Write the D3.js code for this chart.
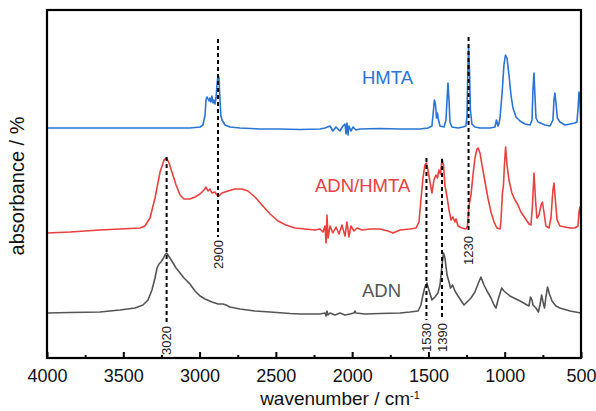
<!DOCTYPE html>
<html><head><meta charset="utf-8">
<script src="https://cdn.jsdelivr.net/npm/d3@7"></script>
<style>
html,body{margin:0;padding:0;background:#fff;}
svg text{font-family:"Liberation Sans",Arial,sans-serif;}
</style></head>
<body><svg id="c" width="596" height="411"></svg>
<script>
// ---- data (wavenumber cm^-1, absorbance a.u.) ----
const hmtaWn = [4000,3784,3522,3259,3063,2997,2978,2964,2958,2951,2938,2932,2925,2919,2912,2906,2899,2892,2886,2879,2873,2866,2860,2853,2833,2801,2735,2604,2473,2342,2211,2178,2145,2126,2106,2080,2060,2047,2040,2034,2027,2021,2008,1994,1975,1949,1818,1686,1555,1503,1477,1470,1461,1454,1447,1441,1434,1424,1398,1385,1378,1372,1365,1359,1346,1306,1274,1254,1247,1241,1237,1231,1225,1215,1195,1162,1097,1064,1054,1044,1038,1031,1018,1005,995,985,972,959,946,926,900,867,834,821,815,808,802,795,782,736,703,684,677,671,664,655,638,605,572,540,527,520,513,507,500];
const hmtaAbs = [2.30,2.30,2.30,2.30,2.30,2.31,2.33,2.43,2.58,2.61,2.57,2.60,2.56,2.62,2.55,2.58,2.54,2.60,2.73,2.83,2.80,2.58,2.42,2.38,2.33,2.31,2.30,2.29,2.29,2.285,2.29,2.30,2.32,2.27,2.31,2.27,2.32,2.34,2.24,2.35,2.23,2.32,2.27,2.31,2.28,2.29,2.295,2.29,2.29,2.30,2.32,2.43,2.58,2.54,2.40,2.45,2.38,2.32,2.31,2.38,2.58,2.75,2.58,2.36,2.31,2.30,2.31,2.32,2.43,2.93,3.11,2.88,2.48,2.34,2.31,2.30,2.30,2.31,2.38,2.32,2.34,2.40,2.63,2.93,3.03,3.00,2.83,2.63,2.50,2.41,2.37,2.34,2.33,2.38,2.68,2.85,2.63,2.40,2.36,2.33,2.32,2.38,2.58,2.65,2.55,2.40,2.36,2.33,2.34,2.35,2.36,2.48,2.66,2.58,2.33];

const mixWn = [4000,3849,3653,3522,3390,3358,3325,3292,3259,3233,3216,3200,3181,3154,3128,3102,3063,3030,2997,2971,2958,2945,2932,2919,2899,2886,2873,2853,2814,2768,2722,2683,2637,2591,2538,2486,2434,2375,2309,2244,2211,2191,2178,2171,2165,2158,2145,2126,2106,2086,2067,2047,2034,2021,2008,1988,1968,1935,1883,1818,1765,1732,1686,1621,1581,1562,1549,1536,1523,1513,1503,1490,1477,1464,1451,1441,1431,1421,1411,1401,1392,1378,1365,1352,1339,1326,1319,1306,1280,1254,1244,1234,1221,1208,1195,1182,1175,1162,1149,1129,1110,1090,1070,1051,1031,1025,1015,1008,1002,994,985,972,953,933,913,894,867,841,828,818,808,798,789,775,762,753,743,730,710,697,684,677,668,657,638,605,572,540,520,513,507,500];
const mixAbs = [1.25,1.26,1.28,1.29,1.30,1.32,1.40,1.60,1.86,1.98,2.00,1.95,1.86,1.73,1.63,1.59,1.59,1.61,1.64,1.68,1.71,1.67,1.69,1.65,1.66,1.63,1.62,1.65,1.67,1.69,1.69,1.67,1.61,1.53,1.44,1.37,1.33,1.30,1.29,1.28,1.29,1.26,1.32,1.15,1.43,1.20,1.32,1.25,1.31,1.24,1.33,1.22,1.36,1.21,1.32,1.27,1.30,1.28,1.29,1.29,1.27,1.25,1.28,1.29,1.30,1.36,1.58,1.80,1.93,1.95,1.88,1.76,1.65,1.78,1.83,1.80,1.88,1.84,1.99,1.93,1.73,1.61,1.48,1.38,1.41,1.36,1.39,1.32,1.30,1.29,1.32,1.53,1.63,1.83,2.00,2.09,2.10,2.05,1.93,1.76,1.60,1.46,1.36,1.30,1.29,1.36,1.65,1.73,1.93,2.11,1.93,1.78,1.65,1.58,1.53,1.46,1.40,1.34,1.33,1.53,1.85,1.58,1.40,1.43,1.53,1.56,1.46,1.32,1.30,1.40,1.68,1.75,1.58,1.38,1.32,1.31,1.30,1.30,1.32,1.46,1.51,1.36];

const adnWn = [4000,3849,3653,3522,3423,3371,3338,3312,3292,3279,3266,3253,3240,3227,3216,3207,3194,3174,3154,3128,3102,3082,3063,3030,2997,2964,2919,2879,2846,2827,2801,2735,2637,2538,2407,2342,2211,2178,2171,2165,2158,2145,2112,2080,2047,2014,1988,1981,1975,1916,1818,1686,1621,1568,1549,1536,1523,1510,1497,1477,1457,1438,1424,1411,1401,1392,1378,1365,1355,1342,1326,1306,1280,1267,1247,1221,1195,1175,1156,1136,1116,1090,1070,1057,1044,1020,1005,966,926,887,854,841,831,821,815,795,779,769,758,749,739,730,719,707,690,664,638,572,500];
const adnAbs = [0.45,0.455,0.46,0.48,0.50,0.53,0.58,0.68,0.80,0.90,0.94,0.96,0.99,1.03,1.05,1.03,1.00,0.95,0.90,0.85,0.80,0.77,0.74,0.67,0.62,0.59,0.56,0.54,0.54,0.53,0.51,0.49,0.47,0.46,0.445,0.44,0.44,0.45,0.42,0.47,0.43,0.45,0.43,0.45,0.43,0.44,0.45,0.47,0.45,0.44,0.445,0.45,0.46,0.47,0.53,0.63,0.71,0.75,0.68,0.58,0.61,0.65,0.73,0.93,1.05,1.00,0.83,0.76,0.70,0.73,0.67,0.62,0.56,0.53,0.56,0.60,0.66,0.74,0.81,0.73,0.67,0.60,0.53,0.50,0.58,0.70,0.67,0.62,0.59,0.56,0.53,0.52,0.61,0.58,0.53,0.50,0.46,0.53,0.63,0.56,0.50,0.61,0.71,0.64,0.57,0.52,0.50,0.47,0.45];

const seriesNames = ["HMTA","ADN/HMTA","ADN"];
const seriesColors = ["#2a74d6","#e8413f","#555555"];

const markerWn = [3216,2879,1513,1411,1237];
const markerLabels = ["3020","2900","1530","1390","1230"];
const markerTop = [2.01,3.19,2.00,1.99,3.21];
const markerBottom = [0.35,1.21,0.38,0.38,1.25];

const xTicks = [4000,3500,3000,2500,2000,1500,1000,500];
const xMinorTicks = [3750,3250,2750,2250,1750,1250,750];

// ---- drawing ----
const svg = d3.select("#c");
const L=47, R=581, T=10, B=358;
const x = d3.scaleLinear().domain([4000,500]).range([L,R]);
const y = d3.scaleLinear().domain([0,3.48]).range([B,T]);

const series = [
  hmtaWn.map((w,i)=>[w,hmtaAbs[i]]),
  mixWn.map((w,i)=>[w,mixAbs[i]]),
  adnWn.map((w,i)=>[w,adnAbs[i]])
];
const line = d3.line().x(d=>x(d[0])).y(d=>y(d[1])).curve(d3.curveLinear);

svg.append("defs").append("clipPath").attr("id","clip")
  .append("rect").attr("x",L).attr("y",T).attr("width",R-L).attr("height",B-T);

const g = svg.append("g").attr("clip-path","url(#clip)");
series.forEach((s,i)=>{
  g.append("path").datum(s).attr("d",line)
   .attr("fill","none").attr("stroke",seriesColors[i])
   .attr("stroke-width",1.6).attr("stroke-linejoin","round");
});

// dashed marker lines
markerWn.forEach((w,i)=>{
  svg.append("line").attr("x1",x(w)).attr("x2",x(w))
    .attr("y1",y(markerTop[i])).attr("y2",y(markerBottom[i]))
    .attr("stroke","#000").attr("stroke-width",2).attr("stroke-dasharray","4,3");
  svg.append("text")
    .attr("transform",`translate(${x(w)+4.5},${y(markerBottom[i])+3}) rotate(-90)`)
    .attr("text-anchor","end").attr("font-size",13).attr("fill","#222")
    .text(markerLabels[i]);
});

// series labels
const labelPos = [[362,84],[315,192],[362,297]];
seriesNames.forEach((n,i)=>{
  svg.append("text").attr("x",labelPos[i][0]).attr("y",labelPos[i][1])
    .attr("font-size",18.5).attr("fill",seriesColors[i]).text(n);
});

// x axis
const xAxis = d3.axisBottom(x).tickValues(xTicks).tickSizeInner(-6).tickSizeOuter(0).tickPadding(11).tickFormat(d3.format("d"));
const ax = svg.append("g").attr("transform",`translate(0,${B})`).call(xAxis);
ax.select(".domain").remove();
ax.selectAll(".tick line").attr("stroke","#000").attr("stroke-width",2);
ax.selectAll(".tick text").attr("font-size",18).attr("fill","#111")
  .style("font-family","'Liberation Sans',Arial,sans-serif");
const axm = svg.append("g").attr("transform",`translate(0,${B})`)
  .call(d3.axisBottom(x).tickValues(xMinorTicks).tickSizeInner(-3).tickSizeOuter(0).tickFormat(""));
axm.select(".domain").remove();
axm.selectAll(".tick line").attr("stroke","#000").attr("stroke-width",2);

// frame
svg.append("rect").attr("x",L).attr("y",T).attr("width",R-L).attr("height",B-T)
  .attr("fill","none").attr("stroke","#000").attr("stroke-width",2.2);

// titles
const xt = svg.append("text").attr("x",340).attr("y",405).attr("text-anchor","middle")
  .attr("font-size",19).attr("fill","#111");
xt.append("tspan").text("wavenumber / cm");
xt.append("tspan").attr("dy",-6).attr("font-size",11).text("-1");

svg.append("text").attr("transform","translate(24,186) rotate(-90)")
  .attr("text-anchor","middle").attr("font-size",20).attr("fill","#111")
  .text("absorbance / %");
</script></body></html>
